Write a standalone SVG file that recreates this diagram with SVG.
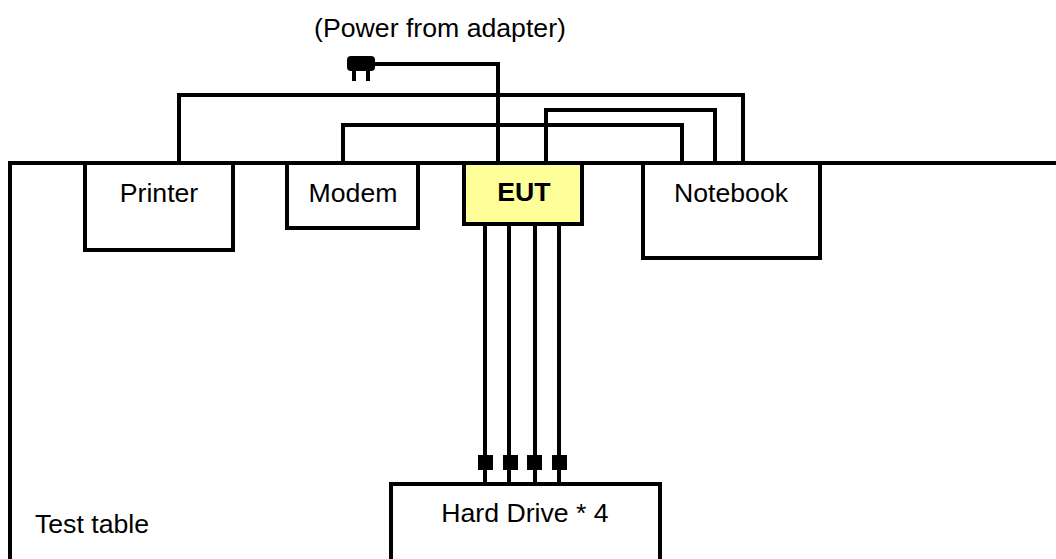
<svg xmlns="http://www.w3.org/2000/svg" width="1056" height="559" viewBox="0 0 1056 559">
<style>
.b{fill:#fff;stroke:#000;stroke-width:4}
.l{fill:none;stroke:#000;stroke-width:4}
text{font-family:"Liberation Sans",Arial,sans-serif;font-size:26.67px;fill:#000;text-anchor:middle}
</style>
<rect width="1056" height="559" fill="#fff"/>
<g id="test-table"><path class="l" d="M10 559V163H1056"/><text x="92" y="533">Test table</text></g>
<g id="connectors">
<path class="l" d="M375 64H498V163"/>
<path class="l" d="M179 163V95H743V163"/>
<path class="l" d="M343 163V125H682V163"/>
<path class="l" d="M546 163V110H715V163"/>
<path class="l" d="M485 224V484M509 224V484M535 224V484M559 224V484"/>
<path d="M478 455h15v15h-15zM503 455h15v15h-15zM527 455h15v15h-15zM552 455h15v15h-15z"/>
</g>
<g id="plug"><rect x="347" y="56" width="28" height="15" rx="4"/><path d="M352 70h4v11h-4zM366 70h4v11h-4z"/></g>
<g id="power-label"><text x="440" y="37">(Power from adapter)</text></g>
<g id="printer"><rect class="b" x="85" y="163" width="148" height="87"/><text x="159" y="202">Printer</text></g>
<g id="modem"><rect class="b" x="287" y="163" width="131" height="65"/><text x="353" y="202">Modem</text></g>
<g id="eut"><rect x="464" y="163" width="118" height="61" fill="#ffff99" stroke="#000" stroke-width="4"/><text x="524" y="201" font-weight="bold">EUT</text></g>
<g id="notebook"><rect class="b" x="643" y="163" width="177" height="95"/><text x="731" y="202">Notebook</text></g>
<g id="hard-drive"><path class="b" d="M391 559V484H660V559"/><text x="525" y="522">Hard Drive * 4</text></g>
</svg>
